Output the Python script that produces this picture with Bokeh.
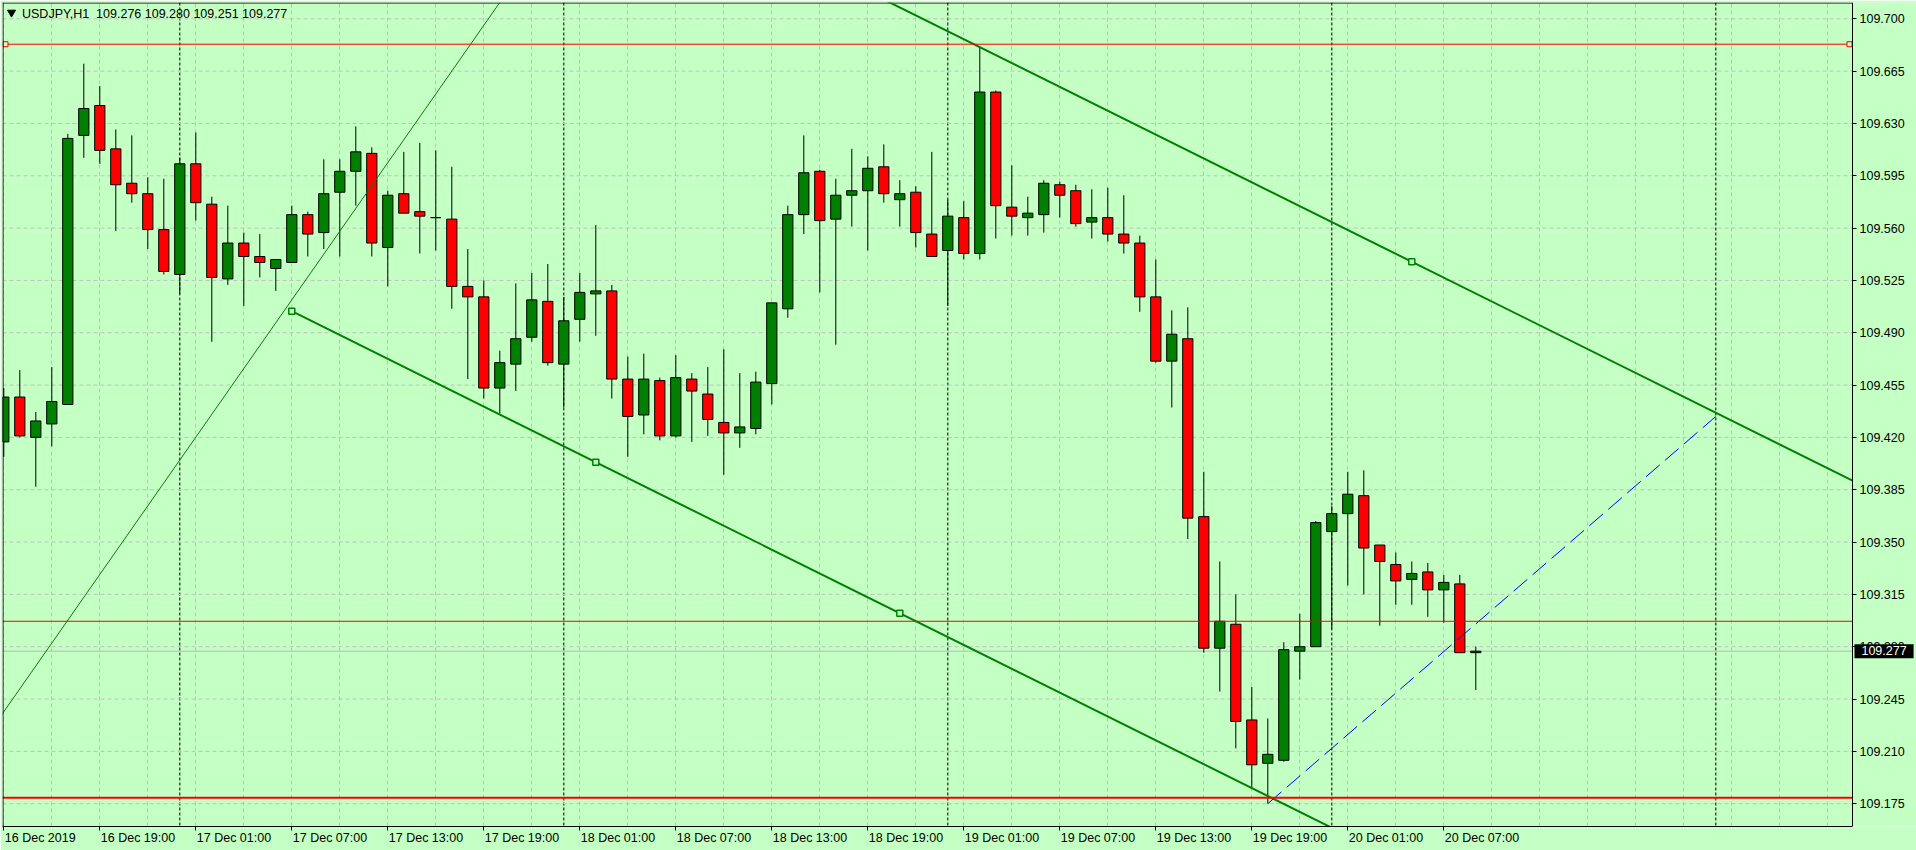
import numpy as np
from bokeh.plotting import figure
from bokeh.models import FixedTicker, PrintfTickFormatter, Span, Label, LinearAxis
from bokeh.embed import file_html
from bokeh.resources import INLINE

# ---------------- data ----------------
symbol = "USDJPY,H1"
opens = [109.417, 109.447, 109.420, 109.429, 109.442, 109.622, 109.642, 109.613, 109.590, 109.583,
         109.559, 109.529, 109.603, 109.576, 109.526, 109.550, 109.541, 109.533, 109.537, 109.569,
         109.557, 109.584, 109.598, 109.610, 109.547, 109.583, 109.571, 109.567, 109.566, 109.521,
         109.514, 109.453, 109.469, 109.487, 109.511, 109.469, 109.499, 109.516, 109.518, 109.459,
         109.435, 109.458, 109.421, 109.459, 109.449, 109.430, 109.423, 109.426, 109.456, 109.506,
         109.569, 109.598, 109.566, 109.582, 109.585, 109.601, 109.579, 109.584, 109.556, 109.545,
         109.567, 109.543, 109.651, 109.574, 109.567, 109.569, 109.589, 109.585, 109.564, 109.567,
         109.556, 109.550, 109.514, 109.471, 109.486, 109.367, 109.279, 109.295, 109.231, 109.202,
         109.204, 109.277, 109.280, 109.357, 109.369, 109.381, 109.348, 109.335, 109.325, 109.330,
         109.318, 109.322, 109.276]
highs = [109.453, 109.465, 109.437, 109.467, 109.623, 109.670, 109.655, 109.626, 109.622, 109.594,
         109.593, 109.607, 109.624, 109.581, 109.575, 109.557, 109.556, 109.539, 109.575, 109.571,
         109.606, 109.606, 109.628, 109.614, 109.585, 109.611, 109.617, 109.612, 109.601, 109.546,
         109.525, 109.478, 109.523, 109.530, 109.536, 109.514, 109.530, 109.562, 109.522, 109.474,
         109.476, 109.460, 109.475, 109.463, 109.467, 109.479, 109.463, 109.464, 109.510, 109.575,
         109.622, 109.599, 109.593, 109.613, 109.608, 109.616, 109.592, 109.588, 109.611, 109.579,
         109.578, 109.681, 109.652, 109.602, 109.581, 109.592, 109.591, 109.589, 109.586, 109.587,
         109.582, 109.555, 109.539, 109.505, 109.507, 109.397, 109.337, 109.315, 109.253, 109.232,
         109.283, 109.302, 109.364, 109.374, 109.397, 109.398, 109.348, 109.343, 109.337, 109.336,
         109.328, 109.328, 109.280]
lows = [109.407, 109.420, 109.387, 109.414, 109.442, 109.607, 109.603, 109.558, 109.577, 109.546,
        109.529, 109.516, 109.565, 109.484, 109.522, 109.508, 109.527, 109.518, 109.537, 109.541,
        109.546, 109.541, 109.575, 109.541, 109.521, 109.570, 109.543, 109.545, 109.506, 109.459,
        109.446, 109.436, 109.451, 109.484, 109.468, 109.440, 109.484, 109.488, 109.446, 109.407,
        109.422, 109.418, 109.420, 109.417, 109.421, 109.395, 109.413, 109.422, 109.442, 109.500,
        109.556, 109.517, 109.482, 109.561, 109.545, 109.577, 109.561, 109.547, 109.541, 109.508,
        109.539, 109.539, 109.553, 109.555, 109.555, 109.557, 109.567, 109.561, 109.553, 109.551,
        109.543, 109.504, 109.470, 109.440, 109.352, 109.276, 109.250, 109.212, 109.185, 109.175,
        109.203, 109.258, 109.280, 109.292, 109.321, 109.315, 109.294, 109.308, 109.308, 109.300,
        109.296, 109.276, 109.251]
closes = [109.447, 109.421, 109.431, 109.444, 109.620, 109.640, 109.612, 109.589, 109.583, 109.559,
          109.531, 109.603, 109.577, 109.527, 109.550, 109.541, 109.537, 109.539, 109.569, 109.556,
          109.583, 109.598, 109.611, 109.550, 109.582, 109.570, 109.568, 109.567, 109.521, 109.514,
          109.453, 109.470, 109.486, 109.512, 109.470, 109.498, 109.517, 109.518, 109.459, 109.434,
          109.459, 109.421, 109.460, 109.451, 109.432, 109.423, 109.427, 109.457, 109.510, 109.569,
          109.597, 109.565, 109.582, 109.585, 109.600, 109.583, 109.583, 109.557, 109.541, 109.568,
          109.543, 109.651, 109.575, 109.568, 109.570, 109.590, 109.582, 109.563, 109.567, 109.556,
          109.550, 109.514, 109.471, 109.489, 109.366, 109.279, 109.297, 109.230, 109.201, 109.208,
          109.278, 109.280, 109.363, 109.369, 109.382, 109.346, 109.337, 109.324, 109.329, 109.318,
          109.323, 109.276, 109.277]

x_labels = ["16 Dec 2019", "16 Dec 19:00", "17 Dec 01:00", "17 Dec 07:00", "17 Dec 13:00",
            "17 Dec 19:00", "18 Dec 01:00", "18 Dec 07:00", "18 Dec 13:00", "18 Dec 19:00",
            "19 Dec 01:00", "19 Dec 07:00", "19 Dec 13:00", "19 Dec 19:00", "20 Dec 01:00",
            "20 Dec 07:00"]
bars_per_label = 6
bars_per_grid = 3
day_break_bars = [11, 35, 59, 83, 107]
price_ticks = [109.175, 109.210, 109.245, 109.280, 109.315, 109.350, 109.385, 109.420,
               109.455, 109.490, 109.525, 109.560, 109.595, 109.630, 109.665, 109.700]

red_levels = [109.683, 109.297, 109.179]
red_widths = [1, 1, 2]

# objects (bar index, price)
trend_pts_x = [0, 28]
trend_pts_y = [109.2365, 109.665]
channel_x = [18, 37]
channel_y = [109.5044, 109.4034]
channel_top_x = 61
channel_top_y = 109.681
channel_marks = [18, 37, 56]
channel_top_mark = 88
blue_x = [79, 107]
blue_y = [109.175, 109.434]

# ---------------- style ----------------
BG = "#C4FFC4"
GRID = "#C0C0C0"
FONT = "Liberation Sans"
FSIZE = 12.5
PX_PER_BAR = 16.0
PX_PER_PRICE = 1495.0
W, H = 1916, 850
BL, BT, BB = 2, 2, 24
CHART_W = 1850                      # width of the candle area, left of the price scale
FRAME_W, FRAME_H = W - BL, H - BT - BB
x0 = -0.08125
x1 = x0 + FRAME_W / PX_PER_BAR
xa = x0 + CHART_W / PX_PER_BAR      # position of the price scale line
y1 = 109.7109
y0 = y1 - FRAME_H / PX_PER_PRICE

# approximate Liberation Sans advance widths (em) for left-aligning the time labels
ADV = {"D": 0.722, "e": 0.556, "c": 0.5, " ": 0.278, ":": 0.278}


def text_w(s):
    return sum(ADV.get(ch, 0.556) for ch in s) * FSIZE


idx = np.arange(len(opens))
o = np.array(opens); c = np.array(closes)
h = np.array(highs); l = np.array(lows)

p = figure(width=W, height=H, x_range=(x0, x1), y_range=(y0, y1),
           y_axis_location="right", output_backend="svg", toolbar_location=None,
           min_border_left=BL, min_border_top=BT, min_border_right=0, min_border_bottom=BB,
           background_fill_color=BG, border_fill_color=BG, outline_line_color=None)

# bottom axis: line + tick marks only (labels are not drawn)
label_pos = [i * bars_per_label for i in range(len(x_labels))]
p.xaxis.ticker = FixedTicker(ticks=label_pos, minor_ticks=[])
p.xaxis.bounds = (x0, xa)
p.xaxis.major_label_text_font_size = "1px"
p.xaxis.major_label_text_color = None
p.xaxis.major_label_standoff = 0
p.xaxis.major_tick_out = 4
p.xaxis.major_tick_in = 0
p.xaxis.minor_tick_out = 0
p.xaxis.minor_tick_in = 0
p.xaxis.axis_line_color = "black"
p.xaxis.major_tick_line_color = "black"

# second bottom axis: labels placed so that they start at their tick (left aligned)
lab_centers = [pos + (text_w(t) / 2 + 1) / PX_PER_BAR for pos, t in zip(label_pos, x_labels)]
lab_axis = LinearAxis(ticker=FixedTicker(ticks=lab_centers, minor_ticks=[]),
                      major_label_overrides={cpos: t for cpos, t in zip(lab_centers, x_labels)},
                      axis_line_color=None, major_tick_line_color=None,
                      minor_tick_line_color=None, major_tick_out=0, major_tick_in=0,
                      minor_tick_out=0, minor_tick_in=0, major_label_standoff=0,
                      major_label_text_font=FONT, major_label_text_font_size="%gpx" % FSIZE,
                      major_label_text_color="black")
p.add_layout(lab_axis, "below")

# price scale pinned at the right edge of the candle area
p.yaxis.fixed_location = xa
p.yaxis.ticker = FixedTicker(ticks=price_ticks, minor_ticks=[])
p.yaxis.formatter = PrintfTickFormatter(format="%.3f")
p.yaxis.major_tick_out = 4
p.yaxis.major_tick_in = 0
p.yaxis.minor_tick_out = 0
p.yaxis.minor_tick_in = 0
p.yaxis.major_label_standoff = 3
p.yaxis.axis_line_color = "black"
p.yaxis.major_tick_line_color = "black"
p.yaxis.major_label_text_font = FONT
p.yaxis.major_label_text_font_size = "%gpx" % FSIZE
p.yaxis.major_label_text_color = "black"

# grid (vertical via Grid, horizontal stopped at the price scale)
p.xgrid.ticker = FixedTicker(ticks=list(range(0, int(xa) + 1, bars_per_grid)))
p.xgrid.grid_line_color = GRID
p.xgrid.grid_line_dash = "4 3"
p.ygrid.visible = False
p.segment(x0=[x0] * len(price_ticks), y0=price_ticks, x1=[xa] * len(price_ticks), y1=price_ticks,
          line_color=GRID, line_dash="4 3", line_width=1)

# day separators
for d in day_break_bars:
    p.add_layout(Span(location=d, dimension="height", line_color="black",
                      line_dash="3 2", line_width=1, level="underlay"))

# chart border (left, top)
p.add_layout(Span(location=x0 + 0.5 / PX_PER_BAR, dimension="height", line_color="black",
                  line_width=1))
p.segment(x0=[x0], y0=[y1 - 0.5 / PX_PER_PRICE], x1=[xa], y1=[y1 - 0.5 / PX_PER_PRICE],
          line_color="black", line_width=1)

# bid line
last = closes[-1]
p.segment(x0=[x0], y0=[last], x1=[xa], y1=[last], line_color="#B8B8B8", line_width=1)

# candles
up = c >= o
p.segment(x0=idx, y0=l, x1=idx, y1=h, line_color="black", line_width=1)
p.vbar(x=idx[up], width=0.64, top=c[up], bottom=o[up], fill_color="#008000",
       line_color="black", line_width=1)
p.vbar(x=idx[~up], width=0.64, top=o[~up], bottom=c[~up], fill_color="#FF0000",
       line_color="black", line_width=1)

# thin green trend line (extended)
ts = (trend_pts_y[1] - trend_pts_y[0]) / (trend_pts_x[1] - trend_pts_x[0])
tx = np.array([x0 - 5, xa])
p.line(tx, trend_pts_y[0] + ts * (tx - trend_pts_x[0]), line_color="#008000", line_width=1)

# channel
cs = (channel_y[1] - channel_y[0]) / (channel_x[1] - channel_x[0])
cx = np.array([channel_x[0], xa])
lower = channel_y[0] + cs * (cx - channel_x[0])
offset = channel_top_y - (channel_y[0] + cs * (channel_top_x - channel_x[0]))
p.line(cx, lower, line_color="#008000", line_width=2)
p.line(cx, lower + offset, line_color="#008000", line_width=2)
mk = np.array(channel_marks)
p.scatter(mk, channel_y[0] + cs * (mk - channel_x[0]), marker="square", size=6,
          fill_color=BG, line_color="#008000", line_width=1.5)
p.scatter([channel_top_mark], [channel_y[0] + cs * (channel_top_mark - channel_x[0]) + offset],
          marker="square", size=6, fill_color=BG, line_color="#008000", line_width=1.5)

# blue dashed line
p.line(blue_x, blue_y, line_color="#0000FF", line_width=1, line_dash="18 7")

# red horizontal levels
n_red = len(red_levels)
p.segment(x0=[x0] * n_red, y0=red_levels, x1=[xa] * n_red, y1=red_levels,
          line_color="#FF0000", line_width=red_widths)
p.scatter([x0 + 3 / PX_PER_BAR, xa - 3 / PX_PER_BAR], [red_levels[0]] * 2, marker="square",
          size=5, fill_color=BG, line_color="#FF0000", line_width=1)

# header
p.scatter([x0 + 9 / PX_PER_BAR], [y1 - 10 / PX_PER_PRICE], marker="inverted_triangle",
          size=8, fill_color="black", line_color="black")
header = "%s\u00a0\u00a0%.3f %.3f %.3f %.3f" % (symbol, opens[-1], highs[-1], lows[-1], closes[-1])
p.add_layout(Label(x=x0 + 19.5 / PX_PER_BAR, y=y1 - 11.5 / PX_PER_PRICE, text=header,
                   text_font=FONT, text_font_size="%gpx" % FSIZE, text_color="black",
                   text_align="left", text_baseline="middle"))

# current price box on the price scale
p.add_layout(Label(x=xa, y=last, x_offset=2,
                   text="\u00a0\u00a0%.3f\u00a0\u00a0" % last,
                   text_font=FONT, text_font_size="%gpx" % FSIZE, text_color="white",
                   text_align="left", text_baseline="middle",
                   background_fill_color="black"))

open("out.html", "w").write(file_html(p, INLINE))
